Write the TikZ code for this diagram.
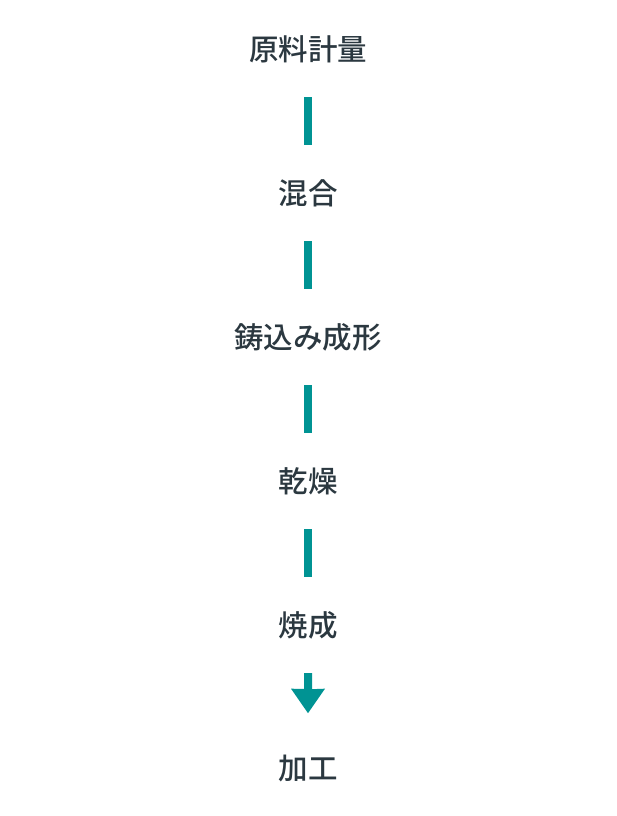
\documentclass[tikz,border=0pt]{standalone}
\usepackage{fontspec}
\newfontfamily\cjk{Noto Sans CJK JP Medium}
\definecolor{txt}{HTML}{2B3840}
\definecolor{teal1}{HTML}{009393}
\begin{document}
\begin{tikzpicture}[x=1pt,y=-1pt,
  stepnode/.style={font=\cjk\fontsize{29.5}{33}\selectfont, text=txt, inner sep=0pt},
  bar/.style={draw=none, fill=teal1}]
\useasboundingbox (0,0) rectangle (616,816);
\node[stepnode] (s1) at (308,49) {原料計量};
\node[stepnode] (s2) at (308,193) {混合};
\node[stepnode] (s3) at (308,337) {鋳込み成形};
\node[stepnode] (s4) at (308,481) {乾燥};
\node[stepnode] (s5) at (308,625) {焼成};
\node[stepnode] (s6) at (308,769) {加工};
\foreach \a/\b in {s1/s2,s2/s3,s3/s4,s4/s5}{
  \path (\a) -- (\b) coordinate[pos=0.5] (m\a);
  \fill[teal1] ([xshift=-4pt,yshift=24pt]m\a) rectangle ([xshift=4pt,yshift=-24pt]m\a);
}
\path (s5) -- (s6) coordinate[pos=0.5] (m5);
\fill[teal1] ([xshift=-4pt,yshift=24pt]m5) rectangle ([xshift=4pt,yshift=8pt]m5)
  -- ([xshift=17pt,yshift=8.5pt]m5) -- ([yshift=-16pt]m5) -- ([xshift=-17pt,yshift=8.5pt]m5) -- cycle;
\end{tikzpicture}
\end{document}
